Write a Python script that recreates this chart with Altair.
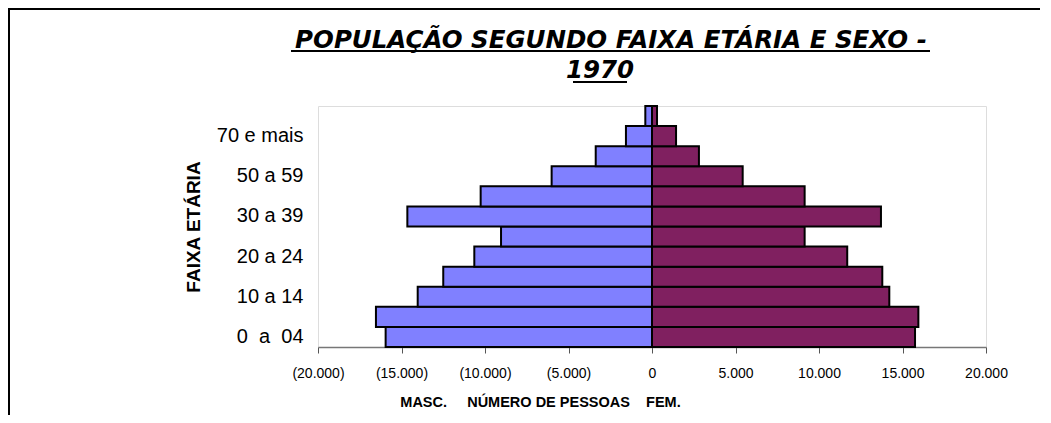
import altair as alt
import pandas as pd

NB = "\u00a0"

faixas = ["0" + NB * 2 + "a" + NB * 2 + "04", "05 a 09", "10 a 14", "15 a 19", "20 a 24",
          "25 a 29", "30 a 39", "40 a 49", "50 a 59", "60 a 69", "70 e mais", "Ignorada"]
rotulos_visiveis = [faixas[i] for i in (0, 2, 4, 6, 8, 10)]
masculino = [15950, 16530, 14030, 12500, 10640, 9040, 14650, 10260, 6010, 3370, 1560, 400]
feminino = [15750, 15950, 14210, 13790, 11690, 9140, 13710, 9140, 5430, 2810, 1440, 300]

titulo_l1 = "POPULAÇÃO SEGUNDO FAIXA ETÁRIA E SEXO -"
titulo_l2 = "1970"
titulo_x = "MASC." + NB * 5 + "NÚMERO DE PESSOAS" + NB * 4 + "FEM."
titulo_y = "FAIXA ETÁRIA"

rows = []
for f, m, w in zip(faixas, masculino, feminino):
    rows.append({"faixa": f, "sexo": "Masc.", "valor": -m})
    rows.append({"faixa": f, "sexo": "Fem.", "valor": w})
df = pd.DataFrame(rows)

ordem = list(reversed(faixas))
vis_js = "[" + ",".join("'" + v + "'" for v in rotulos_visiveis) + "]"

label_x = ("datum.value < 0 ? '(' + replace(format(-datum.value, ','), ',', '.') + ')' : "
           "replace(format(datum.value, ','), ',', '.')")

bars = alt.Chart(df).mark_bar(stroke="black", strokeWidth=2).encode(
    x=alt.X("valor:Q",
            scale=alt.Scale(domain=[-20000, 20000], nice=False),
            axis=alt.Axis(values=list(range(-20000, 20001, 5000)), labelExpr=label_x,
                          title=titulo_x, titleX=222, titleAnchor="start", titleAlign="center",
                          titleFont="Liberation Sans", titleFontSize=14.5,
                          titleFontWeight="bold", titleColor="black", titlePadding=15,
                          labelFont="Liberation Sans", labelFontSize=14,
                          labelColor="black", labelPadding=13, tickSize=6, tickColor="#555555",
                          domainColor="#777777", domainWidth=1.5, grid=False, labelFlush=False)),
    y=alt.Y("faixa:N", sort=ordem,
            scale=alt.Scale(paddingInner=0, paddingOuter=0),
            axis=alt.Axis(labelExpr="indexof(" + vis_js + ", datum.value) >= 0 ? datum.value : ''",
                          ticks=False, domain=False, labelFont="Liberation Sans", labelFontSize=20,
                          labelColor="black", labelPadding=15, title=titulo_y,
                          titleFont="Liberation Sans", titleFontSize=19, titleFontWeight="bold",
                          titleColor="black", titlePadding=13, labelOverlap=False)),
    color=alt.Color("sexo:N", scale=alt.Scale(domain=["Masc.", "Fem."],
                                               range=["#8080FF", "#802060"]), legend=None),
)

t1 = alt.Chart(pd.DataFrame({"t": [titulo_l1]})).mark_text(
    font="DejaVu Sans", fontSize=24.5, fontWeight="bold", fontStyle="italic",
    align="center", baseline="alphabetic", color="black").encode(
    x=alt.value(293), y=alt.value(-58), text="t:N")
t2 = alt.Chart(pd.DataFrame({"t": [titulo_l2]})).mark_text(
    font="DejaVu Sans", fontSize=24.5, fontWeight="bold", fontStyle="italic",
    align="center", baseline="alphabetic", color="black").encode(
    x=alt.value(282), y=alt.value(-28), text="t:N")

u1 = alt.Chart(pd.DataFrame({"k": [1]})).mark_rule(color="black", strokeWidth=2).encode(
    x=alt.value(-27), x2=alt.value(612), y=alt.value(-55))
u2 = alt.Chart(pd.DataFrame({"k": [1]})).mark_rule(color="black", strokeWidth=2).encode(
    x=alt.value(255), x2=alt.value(309), y=alt.value(-24))

frame_top = alt.Chart(pd.DataFrame({"k": [1]})).mark_rule(color="black", strokeWidth=2).encode(
    x=alt.value(-310), x2=alt.value(722), y=alt.value(-97))
frame_left = alt.Chart(pd.DataFrame({"k": [1]})).mark_rule(color="black", strokeWidth=2).encode(
    x=alt.value(-309), y=alt.value(-97), y2=alt.value(330))

chart = alt.layer(bars, t1, t2, u1, u2, frame_top, frame_left).properties(
    width=668, height=241,
    autosize=alt.AutoSizeParams(type="none"),
    padding={"left": 310, "top": 98, "right": 57, "bottom": 68},
).configure_view(stroke="#8c8c8c", strokeWidth=1.5).configure(background="white")

chart.save("out.html", embed_options={"renderer": "svg", "actions": False})
